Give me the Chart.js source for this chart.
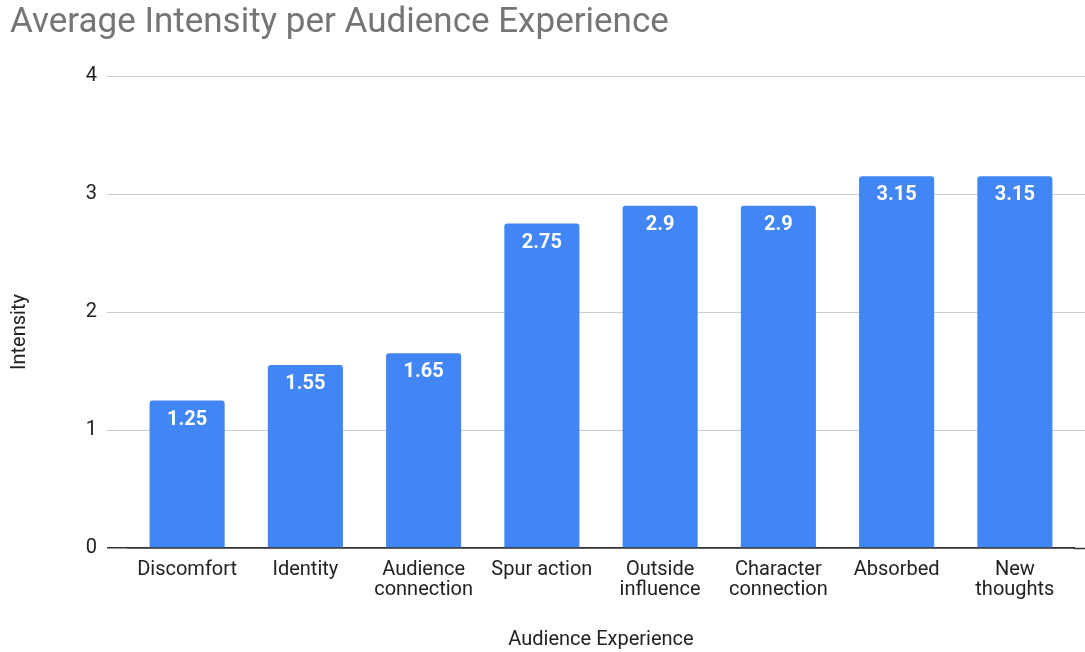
<!DOCTYPE html>
<html>
<head>
<meta charset="utf-8">
<script src="https://cdn.jsdelivr.net/npm/chart.js@4"></script>
<style>
  html, body { margin: 0; padding: 0; background: #fff; }
  #wrap { width: 1085px; height: 652px; }
</style>
</head>
<body>
<div id="wrap"><canvas id="intensityChart" width="1085" height="652"></canvas></div>
<script>
const categories = [
  'Discomfort',
  'Identity',
  ['Audience', 'connection'],
  'Spur action',
  ['Outside', 'influence'],
  ['Character', 'connection'],
  'Absorbed',
  ['New', 'thoughts'],
];
const intensity = [1.25, 1.55, 1.65, 2.75, 2.9, 2.9, 3.15, 3.15];
const yTicks = [0, 1, 2, 3, 4];

const FONT = 'Roboto, Arial, sans-serif';
const gridColor = '#cccccc';
const baseColor = '#333333';
const textColor = '#222222';

// grid lines in google charts run past the bars on the right
const gridExtend = {
  id: 'gridExtend',
  beforeDatasetsDraw(chart) {
    const { ctx, chartArea, scales } = chart;
    ctx.save();
    for (const v of yTicks) {
      const y = scales.y.getPixelForValue(v);
      ctx.strokeStyle = v === 0 ? baseColor : gridColor;
      ctx.lineWidth = v === 0 ? 1.5 : 1;
      ctx.beginPath();
      ctx.moveTo(chartArea.right, Math.round(y) + 0.5);
      ctx.lineTo(chart.width, Math.round(y) + 0.5);
      ctx.stroke();
    }
    ctx.restore();
  },
};

const barLabels = {
  id: 'barLabels',
  afterDatasetsDraw(chart) {
    const { ctx } = chart;
    const meta = chart.getDatasetMeta(0);
    ctx.save();
    ctx.fillStyle = '#ffffff';
    ctx.font = `bold 20px ${FONT}`;
    ctx.textAlign = 'center';
    ctx.textBaseline = 'middle';
    meta.data.forEach((bar, i) => {
      ctx.fillText(String(intensity[i]), bar.x, bar.y + 19);
    });
    ctx.restore();
  },
};

// vertical axis title, placed where google charts puts it
const yTitle = {
  id: 'yTitle',
  afterDraw(chart) {
    const { ctx } = chart;
    ctx.save();
    ctx.translate(20, 332);
    ctx.rotate(-Math.PI / 2);
    ctx.fillStyle = textColor;
    ctx.font = `20px ${FONT}`;
    ctx.textAlign = 'center';
    ctx.textBaseline = 'middle';
    ctx.fillText('Intensity', 0, 0);
    ctx.restore();
  },
};

new Chart(document.getElementById('intensityChart'), {
  type: 'bar',
  data: {
    labels: categories,
    datasets: [
      {
        label: 'Intensity',
        data: intensity,
        backgroundColor: '#4285f4',
        borderRadius: 3,
        borderSkipped: 'bottom',
        barPercentage: 0.635,
        categoryPercentage: 1,
      },
    ],
  },
  options: {
    responsive: false,
    animation: false,
    layout: { padding: { left: 10, right: 11, top: 0, bottom: 0 } },
    plugins: {
      legend: { display: false },
      tooltip: { enabled: false },
      title: {
        display: true,
        text: 'Average Intensity per Audience Experience',
        align: 'start',
        color: '#757575',
        font: { family: FONT, size: 35, weight: 'normal', lineHeight: 1.2 },
        padding: { top: 2, bottom: 32 },
      },
    },
    scales: {
      x: {
        grid: { display: false },
        border: { display: true, color: baseColor, width: 1.5 },
        ticks: {
          color: textColor,
          font: { family: FONT, size: 20, lineHeight: 1.0 },
          padding: 4,
          maxRotation: 0,
          autoSkip: false,
        },
        title: {
          display: true,
          text: 'Audience Experience',
          color: textColor,
          font: { family: FONT, size: 20 },
          padding: { top: 20, bottom: 0 },
        },
        afterFit(scale) {
          scale.height = 104;
        },
      },
      y: {
        min: 0,
        max: 4,
        border: { display: false },
        grid: {
          color: (c) => (c.tick && c.tick.value === 0 ? baseColor : gridColor),
          lineWidth: (c) => (c.tick && c.tick.value === 0 ? 1.5 : 1),
          tickLength: 21,
          drawTicks: true,
        },
        ticks: {
          stepSize: 1,
          color: textColor,
          font: { family: FONT, size: 20 },
          padding: 10,
          callback: (v) => (yTicks.includes(v) ? v : ''),
        },
        title: { display: false },
        afterFit(scale) {
          scale.width = 118;
        },
      },
    },
  },
  plugins: [gridExtend, barLabels, yTitle],
});
</script>
</body>
</html>
